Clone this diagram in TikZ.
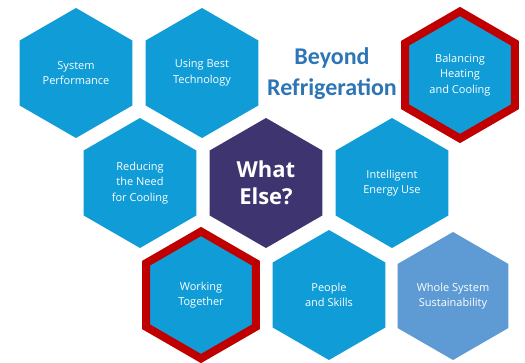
\documentclass[tikz,border=0pt]{standalone}
\usepackage{fontspec}
\setmainfont{Open Sans}
\newfontfamily\titlefont{Carlito}
\usetikzlibrary{shapes.geometric}
\definecolor{hexblue}{RGB}{16,156,214}
\definecolor{hexpurple}{RGB}{62,52,112}
\definecolor{hexlight}{RGB}{94,155,213}
\definecolor{hexred}{RGB}{192,0,0}
\definecolor{titleblue}{RGB}{46,117,182}
\begin{document}
\begin{tikzpicture}[x=1pt,y=-1pt,
  hexbase/.style={regular polygon, regular polygon sides=6, shape border rotate=30,
    inner sep=0pt, align=center, text=white,
    font=\fontsize{11}{15.5}\selectfont},
  hexcell/.style={hexbase, minimum size=130pt, fill=hexblue},
  hexred/.style={hexbase, minimum size=127pt, fill=hexblue, draw=hexred, line width=8pt},
  hexcentre/.style={hexbase, minimum size=130pt, fill=hexpurple,
    font=\fontsize{22}{27}\selectfont\bfseries},
  hexpale/.style={hexbase, minimum size=128pt, fill=hexlight},
  titletext/.style={align=center, text=titleblue, font=\titlefont\fontsize{24}{31}\selectfont\bfseries}
]
\useasboundingbox (0,0) rectangle (525,363);
\fill[white] (0,0) rectangle (525,363);
% top row
\node[hexcell] (sp) at (76,73) {System\\Performance};
\node[hexcell] (ubt) at (202,73) {Using Best\\Technology};
\node[titletext] (title) at (332,74) {Beyond\\Refrigeration};
\node[hexred] (bhc) at (460,75) {Balancing\\Heating\\and Cooling};
% middle row
\node[hexcell] (rnc) at (140,183) {Reducing\\the Need\\for Cooling};
\node[hexcentre] (we) at (266,183) {What\\Else?};
\node[hexcell] (ieu) at (392,183) {Intelligent\\Energy Use};
% bottom row
\node[hexred] (wt) at (201,295) {Working\\Together};
\node[hexcell] (ps) at (329,295) {People\\and Skills};
\node[hexpale] (wss) at (453,296) {Whole System\\Sustainability};
\end{tikzpicture}
\end{document}
